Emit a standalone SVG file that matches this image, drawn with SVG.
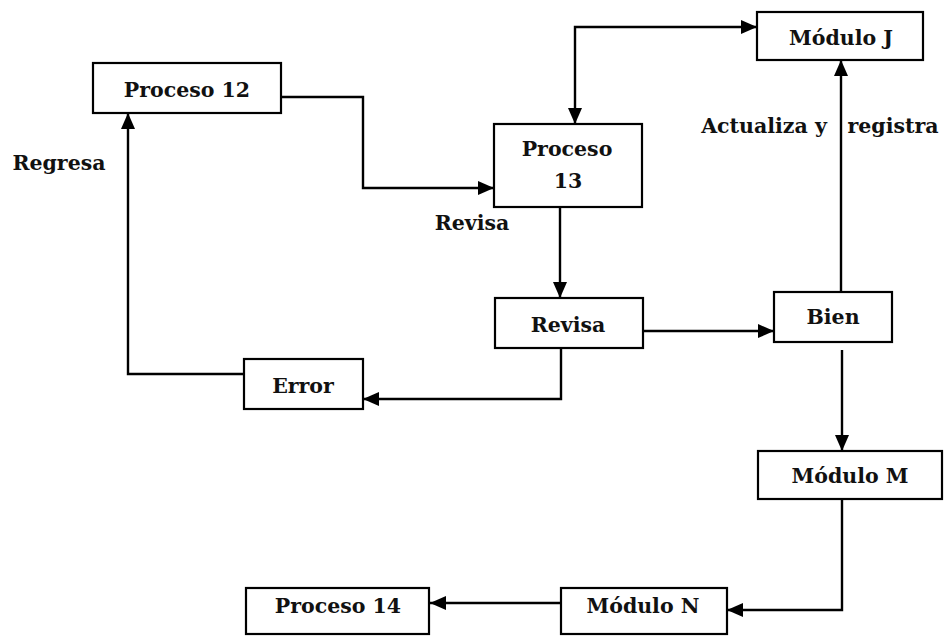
<svg xmlns="http://www.w3.org/2000/svg" width="944" height="636" viewBox="0 0 944 636">
  <style>
    .box { fill: #ffffff; stroke: #000000; stroke-width: 2.2; }
    .lbl { font-family: "DejaVu Serif", "Liberation Serif", serif; font-weight: bold; font-size: 20.5px; fill: #111111; text-anchor: middle; }
    .wire { fill: none; stroke: #000000; stroke-width: 2.4; }
  </style>
  <defs>
    <marker id="ah" viewBox="0 0 16 14" refX="16" refY="7" markerWidth="16" markerHeight="14" orient="auto-start-reverse" markerUnits="userSpaceOnUse">
      <path d="M0,0 L16,7 L0,14 z" fill="#000000"/>
    </marker>
  </defs>
  <rect width="944" height="636" fill="#ffffff"/>

  <g id="connectors">
    <path class="wire" d="M281,97 H363 V188 H494" marker-end="url(#ah)"/>
    <path class="wire" d="M575,124 V27 H757" marker-start="url(#ah)" marker-end="url(#ah)"/>
    <path class="wire" d="M560,207 V298" marker-end="url(#ah)"/>
    <path class="wire" d="M643,331 H774" marker-end="url(#ah)"/>
    <path class="wire" d="M841,292 V60" marker-end="url(#ah)"/>
    <path class="wire" d="M842,350 V451" marker-end="url(#ah)"/>
    <path class="wire" d="M561,348 V399 H363" marker-end="url(#ah)"/>
    <path class="wire" d="M244,374 H128 V113" marker-end="url(#ah)"/>
    <path class="wire" d="M842,499 V610 H727" marker-end="url(#ah)"/>
    <path class="wire" d="M561,603 H430" marker-end="url(#ah)"/>
  </g>

  <g id="proceso12">
    <rect class="box" x="93" y="63" width="188" height="50"/>
    <text class="lbl" x="187" y="97">Proceso 12</text>
  </g>
  <g id="proceso13">
    <rect class="box" x="494" y="124" width="148" height="83"/>
    <text class="lbl" x="567" y="156">Proceso</text>
    <text class="lbl" x="568" y="188">13</text>
  </g>
  <g id="moduloJ">
    <rect class="box" x="757" y="12" width="166" height="48"/>
    <text class="lbl" x="841" y="45">Módulo J</text>
  </g>
  <g id="revisa">
    <rect class="box" x="495" y="298" width="148" height="50"/>
    <text class="lbl" x="568" y="332">Revisa</text>
  </g>
  <g id="bien">
    <rect class="box" x="774" y="292" width="118" height="50"/>
    <text class="lbl" x="833" y="324">Bien</text>
  </g>
  <g id="error">
    <rect class="box" x="244" y="359" width="119" height="50"/>
    <text class="lbl" x="303" y="393">Error</text>
  </g>
  <g id="moduloM">
    <rect class="box" x="758" y="451" width="184" height="48"/>
    <text class="lbl" x="850" y="483">Módulo M</text>
  </g>
  <g id="moduloN">
    <rect class="box" x="561" y="588" width="166" height="46"/>
    <text class="lbl" x="643" y="613">Módulo N</text>
  </g>
  <g id="proceso14">
    <rect class="box" x="246" y="588" width="183" height="46"/>
    <text class="lbl" x="338" y="613">Proceso 14</text>
  </g>

  <g id="labels">
    <text class="lbl" x="59" y="170">Regresa</text>
    <text class="lbl" x="472" y="230">Revisa</text>
    <text class="lbl" x="764" y="133">Actualiza y</text>
    <text class="lbl" x="893" y="133">registra</text>
  </g>
</svg>
